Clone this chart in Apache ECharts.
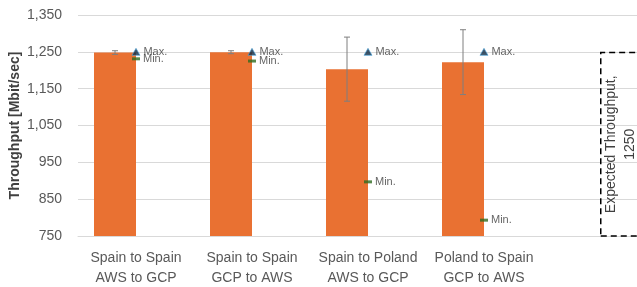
<!DOCTYPE html>
<html lang="en">
<head>
    <meta charset="UTF-8"/>
    <script src="https://cdn.jsdelivr.net/npm/echarts@6/dist/echarts.min.js"></script>
    <title>Throughput</title>
    <style>
        html, body { margin: 0; padding: 0; background: #fff; }
        #chart { width: 637px; height: 287px; }
    </style>
</head>
<body>
<div id="chart"></div>
<script type="text/javascript">
    // categories (last slot holds the expected-throughput box)
    var categories = ['Spain to Spain\nAWS to GCP', 'Spain to Spain\nGCP to AWS',
        'Spain to Poland\nAWS to GCP', 'Poland to Spain\nGCP to AWS', ''];
    var throughput = [1248, 1249, 1203, 1222];
    var stdDev = [5, 4, 87, 88];
    var maxVals = [1250, 1250, 1250, 1250];
    var minVals = [1231, 1225, 897, 793];
    var expected = 1250;
    var yTicks = { min: 750, max: 1350, step: 100 };

    var fontName = 'Liberation Sans';
    var textGrey = '#595959';
    var halfBar = 21;

    var barData = throughput.concat(['-']);
    var expData = ['-', '-', '-', '-', expected];
    var errData = [];
    for (var i = 0; i < throughput.length; i++) {
        errData.push([i, throughput[i] - stdDev[i], throughput[i] + stdDev[i]]);
    }

    var myChart = echarts.init(document.getElementById('chart'));
    var option = {
        animation: false,
        textStyle: { fontFamily: fontName },
        grid: { left: 78, top: 15, width: 580, height: 221, outerBoundsMode: 'none', containLabel: false },
        xAxis: {
            type: 'category',
            data: categories,
            axisLine: { lineStyle: { color: '#d9d9d9', width: 1 } },
            axisTick: { show: false },
            axisLabel: { color: textGrey, fontSize: 14, lineHeight: 20, margin: 12, interval: 0 }
        },
        yAxis: {
            type: 'value',
            min: yTicks.min,
            max: yTicks.max,
            interval: yTicks.step,
            name: 'Throughput [Mbit/sec]',
            nameLocation: 'middle',
            nameGap: 56,
            nameMoveOverlap: false,
            nameTextStyle: { color: '#404040', fontSize: 14, fontWeight: 'bold' },
            axisLine: { show: false },
            axisTick: { show: false },
            axisLabel: {
                color: textGrey, fontSize: 14, margin: 16,
                formatter: function (v) { return v.toLocaleString('en-US'); }
            },
            splitLine: { lineStyle: { color: '#d9d9d9', width: 1 } }
        },
        series: [
            {
                name: 'Throughput',
                type: 'bar',
                data: barData,
                barWidth: 42,
                barGap: '0%',
                itemStyle: { color: '#e97132' }
            },
            {
                name: 'Expected Throughput',
                type: 'bar',
                data: expData,
                barWidth: 42,
                barGap: '0%',
                itemStyle: {
                    color: 'rgba(0,0,0,0)',
                    borderColor: '#000',
                    borderWidth: 1.5,
                    borderType: [6, 4]
                },
                label: {
                    show: true,
                    position: 'inside',
                    rotate: 90,
                    color: '#404040',
                    fontSize: 14,
                    lineHeight: 19,
                    formatter: 'Expected Throughput,\n1250'
                }
            },
            {
                name: 'Error',
                type: 'custom',
                data: errData,
                z: 5,
                renderItem: function (params, api) {
                    var lo = api.coord([api.value(0), api.value(1)]);
                    var hi = api.coord([api.value(0), api.value(2)]);
                    var x = lo[0] - halfBar;
                    var cap = 3;
                    var st = { stroke: '#7f7f7f', lineWidth: 1 };
                    return {
                        type: 'group',
                        children: [
                            { type: 'line', shape: { x1: x, y1: lo[1], x2: x, y2: hi[1] }, style: st },
                            { type: 'line', shape: { x1: x - cap, y1: lo[1], x2: x + cap, y2: lo[1] }, style: st },
                            { type: 'line', shape: { x1: x - cap, y1: hi[1], x2: x + cap, y2: hi[1] }, style: st }
                        ]
                    };
                }
            },
            {
                name: 'Max.',
                type: 'scatter',
                data: maxVals,
                symbol: 'triangle',
                symbolSize: [8, 7],
                z: 6,
                itemStyle: { color: '#0e2841', borderColor: '#4ea6dc', borderWidth: 0.8 },
                label: {
                    show: true, position: 'right', distance: 3,
                    formatter: 'Max.', color: '#404040', fontSize: 11
                }
            },
            {
                name: 'Min.',
                type: 'scatter',
                data: minVals,
                symbol: 'rect',
                symbolSize: [8, 3],
                z: 6,
                itemStyle: { color: '#2e6b1f' },
                label: {
                    show: true, position: 'right', distance: 3,
                    formatter: 'Min.', color: '#404040', fontSize: 11
                }
            }
        ]
    };
    myChart.setOption(option);
</script>
</body>
</html>
